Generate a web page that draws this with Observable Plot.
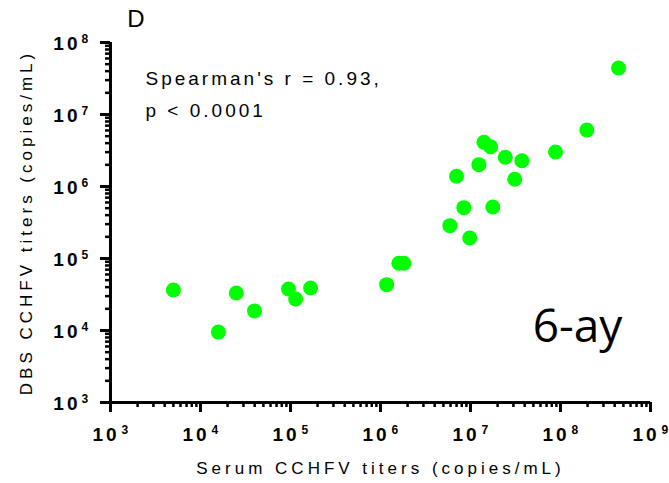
<!DOCTYPE html>
<html><head><meta charset="utf-8">
<script src="https://cdn.jsdelivr.net/npm/d3@7"></script>
<script src="https://cdn.jsdelivr.net/npm/@observablehq/plot@0.6"></script>
<style>body{margin:0;background:#fff}</style>
</head><body><div id="chart"></div>
<script>
// Data (copies/mL)
const serum = [5.0e3, 1.58e4, 2.5e4, 3.98e4, 9.5e4, 1.14e5, 1.67e5, 1.17e6, 1.6e6, 1.82e6, 5.9e6, 6.99e6, 8.43e6, 9.8e6, 1.24e7, 1.41e7, 1.67e7, 1.77e7, 2.43e7, 3.1e7, 3.72e7, 8.8e7, 1.96e8, 4.41e8];
const dbs   = [3.65e4, 9.5e3, 3.32e4, 1.87e4, 3.77e4, 2.74e4, 3.89e4, 4.33e4, 8.58e4, 8.6e4, 2.86e5, 1.39e6, 5.08e5, 1.93e5, 2.01e6, 4.11e6, 3.57e6, 5.19e5, 2.55e6, 1.26e6, 2.28e6, 3.01e6, 6.09e6, 4.43e7];
const xTickExponents = [3, 4, 5, 6, 7, 8, 9];
const yTickExponents = [3, 4, 5, 6, 7, 8];
const panelLabel = ["D"];
const statsLine1 = ["Spearman's r = 0.93,"];
const statsLine2 = ["p < 0.0001"];
const cornerLabel = ["6-ay"];
const xTitle = ["Serum CCHFV titers (copies/mL)"];
const yTitle = ["DBS CCHFV titers (copies/mL)"];

const points = serum.map((s, i) => ({serum: s, dbs: dbs[i]}));
const minorTicks = exps => exps.slice(0, -1).flatMap(e => d3.range(2, 10).map(k => k * 10 ** e));
const spaced = px => (i, s, v, d, c, next) => { const g = next(i, s, v, d, c); g.style.letterSpacing = px + "px"; return g; };
const font = "Arial, 'Liberation Sans', sans-serif";

const chart = Plot.plot({
  width: 669,
  height: 483,
  marginLeft: 110,
  marginRight: 19,
  marginTop: 42,
  marginBottom: 81,
  style: {fontFamily: font, background: "#fff", color: "#000"},
  x: {type: "log", domain: [1e3, 1e9]},
  y: {type: "log", domain: [1e3, 1e8]},
  marks: [
    // ticks
    Plot.axisX({ticks: minorTicks(xTickExponents), tickSize: 5, strokeWidth: 2.5, fill: "none", tickFormat: () => "", label: null}),
    Plot.axisX({ticks: xTickExponents.map(e => 10 ** e), tickSize: 10, strokeWidth: 3, fill: "none", tickFormat: () => "", label: null}),
    Plot.axisY({ticks: minorTicks(yTickExponents), tickSize: 5, strokeWidth: 2.5, fill: "none", tickFormat: () => "", label: null}),
    Plot.axisY({ticks: yTickExponents.map(e => 10 ** e), tickSize: 10, strokeWidth: 3, fill: "none", tickFormat: () => "", label: null}),
    // axis lines
    Plot.ruleY([1e3], {strokeWidth: 3}),
    Plot.ruleX([1e3], {strokeWidth: 3}),
    // tick labels: 10 with superscript exponent
    Plot.text(xTickExponents, {x: e => 10 ** e, text: () => "10", frameAnchor: "bottom", dx: -4.5, dy: 32.5, textAnchor: "middle", lineAnchor: "middle", fontSize: 19, fontWeight: "bold", fontFamily: font, render: spaced(3)}),
    Plot.text(xTickExponents, {x: e => 10 ** e, text: e => String(e), frameAnchor: "bottom", dx: 11, dy: 28, textAnchor: "start", lineAnchor: "middle", fontSize: 12, fontWeight: "bold", fontFamily: font}),
    Plot.text(yTickExponents, {y: e => 10 ** e, text: () => "10", frameAnchor: "left", dx: -30, dy: 1.5, textAnchor: "end", lineAnchor: "middle", fontSize: 19, fontWeight: "bold", fontFamily: font, render: spaced(3)}),
    Plot.text(yTickExponents, {y: e => 10 ** e, text: e => String(e), frameAnchor: "left", dx: -29, dy: -3, textAnchor: "start", lineAnchor: "middle", fontSize: 12, fontWeight: "bold", fontFamily: font}),
    // axis titles
    Plot.text(xTitle, {text: d => d, frameAnchor: "bottom", dy: 66, textAnchor: "middle", lineAnchor: "middle", fontSize: 17, fontFamily: font, render: spaced(4)}),
    Plot.text(yTitle, {text: d => d, frameAnchor: "left", dx: -84, rotate: -90, textAnchor: "middle", lineAnchor: "middle", fontSize: 17, fontFamily: font, render: spaced(4)}),
    // annotations
    Plot.text(panelLabel, {text: d => d, frameAnchor: "top-left", dx: 25.5, dy: -23, textAnchor: "middle", lineAnchor: "middle", fontSize: 24, fontFamily: font}),
    Plot.text(statsLine1, {text: d => d, frameAnchor: "top-left", dx: 35, dy: 36, textAnchor: "start", lineAnchor: "middle", fontSize: 19, fontFamily: font, render: spaced(3)}),
    Plot.text(statsLine2, {text: d => d, frameAnchor: "top-left", dx: 35, dy: 68, textAnchor: "start", lineAnchor: "middle", fontSize: 19, fontFamily: font, render: spaced(3)}),
    Plot.text(cornerLabel, {text: d => d, frameAnchor: "top-left", dx: 467, dy: 285, textAnchor: "middle", lineAnchor: "middle", fontSize: 46, fontFamily: "'Open Sans', sans-serif"}),
    // data
    Plot.dot(points, {x: "serum", y: "dbs", r: 7.5, fill: "#00ff00", stroke: "none"})
  ]
});
document.getElementById("chart").appendChild(chart);
</script>
</body></html>
